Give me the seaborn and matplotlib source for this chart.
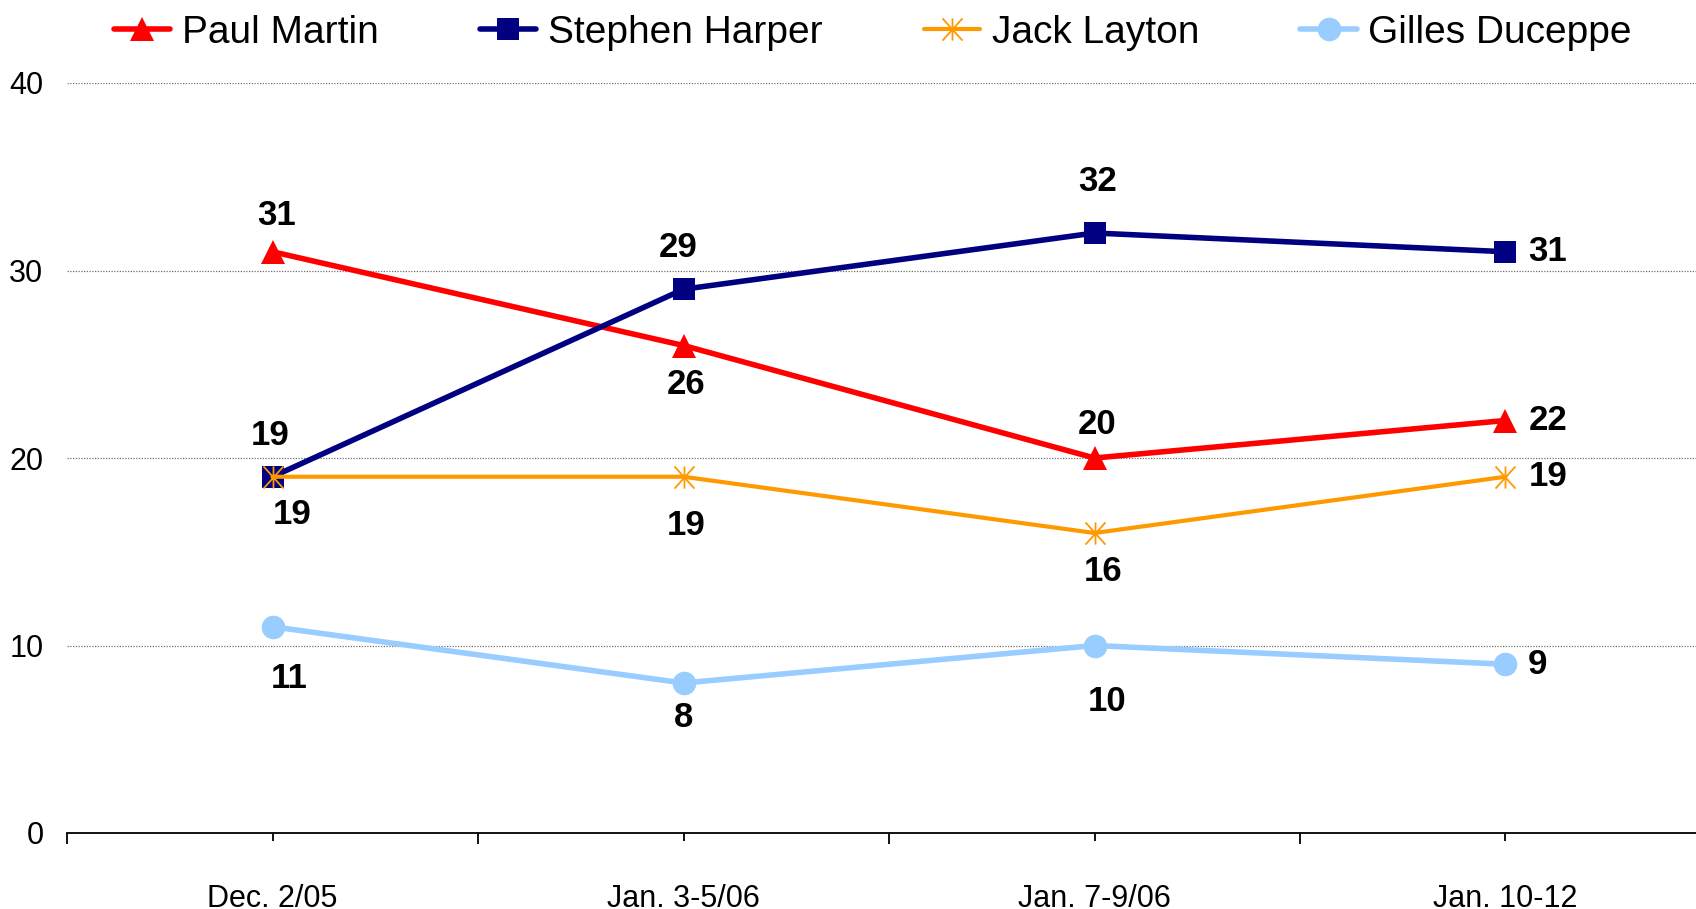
import matplotlib
matplotlib.use('Agg')
import matplotlib.pyplot as plt
from matplotlib.path import Path
import pandas as pd
import seaborn as sns
import numpy as np

# poll dates and leader numbers
dates = ['Dec. 2/05', 'Jan. 3-5/06', 'Jan. 7-9/06', 'Jan. 10-12']
leaders = ['Paul Martin', 'Stephen Harper', 'Jack Layton', 'Gilles Duceppe']
martin = [31, 26, 20, 22]
harper = [19, 29, 32, 31]
layton = [19, 19, 16, 19]
duceppe = [11, 8, 10, 9]

# label offsets (points) for each value label
martin_off = [(3, 26), (2, -28), (2, 24), (31, 0)]
harper_off = [(-2, 30), (-4, 30), (2, 37), (30, 0)]
layton_off = [(14, -27), (2, -35), (6, -28), (31, 0)]
duceppe_off = [(12, -37), (0, -25), (9, -40), (23, 0)]

# Excel style "star" marker: vertical bar + X
star = Path([(0, -1), (0, 1), (-0.9, -1), (0.9, 1), (-0.9, 1), (0.9, -1)],
            [Path.MOVETO, Path.LINETO, Path.MOVETO, Path.LINETO, Path.MOVETO, Path.LINETO])

styles = {
    'Paul Martin': dict(color='#FF0000', marker='^', markersize=17, lw=4.0, mew=0),
    'Stephen Harper': dict(color='#000080', marker='s', markersize=16, lw=4.0, mew=0),
    'Jack Layton': dict(color='#FF9900', marker=star, markersize=16, lw=3.0, mew=1.3),
    'Gilles Duceppe': dict(color='#99CCFF', marker='o', markersize=17, lw=4.0, mew=0),
}

sns.set_theme(style='white')
plt.rcParams['font.family'] = ['Liberation Sans', 'DejaVu Sans']
plt.rcParams['text.color'] = 'black'

df = pd.DataFrame({
    'pos': np.tile(np.arange(len(dates)), len(leaders)),
    'value': martin + harper + layton + duceppe,
    'leader': np.repeat(leaders, len(dates)),
})

fig = plt.figure(figsize=(16.96, 9.09), dpi=100)
ax = fig.add_axes([67 / 1696, 1 - 833 / 909, (1711 - 67) / 1696, (833 - 83) / 909])

for name in leaders:
    st = styles[name]
    sns.lineplot(data=df[df.leader == name], x='pos', y='value', ax=ax, sort=False,
                 legend=False, label=name, color=st['color'], lw=st['lw'],
                 marker=st['marker'], markersize=st['markersize'],
                 markerfacecolor=st['color'], markeredgecolor=st['color'],
                 markeredgewidth=st['mew'])

offsets = {'Paul Martin': martin_off, 'Stephen Harper': harper_off,
           'Jack Layton': layton_off, 'Gilles Duceppe': duceppe_off}
for name in leaders:
    sub = df[df.leader == name]
    for (p, v), off in zip(zip(sub.pos, sub.value), offsets[name]):
        ax.annotate(str(v), (p, v), xytext=off, textcoords='offset points',
                    ha='center', va='center', fontsize=25, fontweight='bold',
                    color='black', zorder=10)

ax.set_xlim(-0.5, 3.5)
ax.set_ylim(0, 40)
ax.set_yticks([0, 10, 20, 30, 40])
ax.set_xticks(range(len(dates)))
ax.set_xticklabels(dates)
ax.set_xticks(np.arange(-0.5, 3.6, 1.0), minor=True)
ax.set_xlabel('')
ax.set_ylabel('')

for s in ['top', 'right', 'left']:
    ax.spines[s].set_visible(False)
ax.spines['bottom'].set_color('black')
ax.spines['bottom'].set_linewidth(1.3)

ax.yaxis.grid(True, linestyle=(0, (1, 1.2)), color='#707070', lw=0.9)
ax.xaxis.grid(False)
ax.tick_params(axis='y', length=0, pad=17, labelsize=22, colors='black')
ax.tick_params(axis='x', which='major', bottom=True, length=6, width=1.3,
               direction='out', pad=31, labelsize=22, colors='black')
ax.tick_params(axis='x', which='minor', bottom=True, length=8, width=1.3,
               direction='out', colors='black')

handles, labels = ax.get_legend_handles_labels()
fig.legend(handles, labels, loc='center', bbox_to_anchor=(873 / 1696, 1 - 33 / 909),
           ncol=4, frameon=False, fontsize=28, handlelength=1.45, handletextpad=0.3,
           columnspacing=2.6, borderaxespad=0, labelcolor='black')

fig.savefig('out.png', dpi=100)
